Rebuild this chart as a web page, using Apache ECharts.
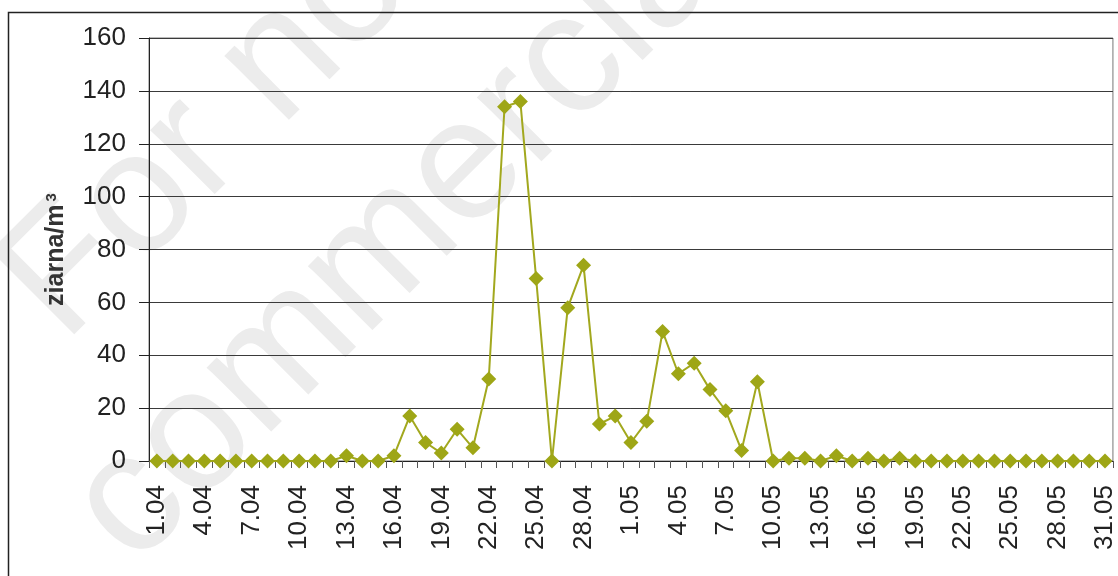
<!DOCTYPE html>
<html><head><meta charset="utf-8">
<script src="https://cdn.jsdelivr.net/npm/echarts@6/dist/echarts.min.js"></script>
<style>html,body{margin:0;padding:0;background:#fff}#c{width:1118px;height:576px}</style>
</head><body><div id="c"></div>
<script>
const categories = ['1.04','2.04','3.04','4.04','5.04','6.04','7.04','8.04','9.04','10.04',
  '11.04','12.04','13.04','14.04','15.04','16.04','17.04','18.04','19.04','20.04',
  '21.04','22.04','23.04','24.04','25.04','26.04','27.04','28.04','29.04','30.04',
  '1.05','2.05','3.05','4.05','5.05','6.05','7.05','8.05','9.05','10.05',
  '11.05','12.05','13.05','14.05','15.05','16.05','17.05','18.05','19.05','20.05',
  '21.05','22.05','23.05','24.05','25.05','26.05','27.05','28.05','29.05','30.05','31.05'];
const values = [0,0,0,0,0,0,0,0,0,0,
  0,0,2,0,0,2,17,7,3,12,
  5,31,134,136,69,0,58,74,14,17,
  7,15,49,33,37,27,19,4,30,0,
  1,1,0,2,0,1,0,1,0,0,
  0,0,0,0,0,0,0,0,0,0,0];
const yMin = 0, yMax = 160, yStep = 20;
const yTitle = 'ziarna/m';
const yTitleSup = '3';
const watermark = ['For non-', 'commercial use'];

const chart = echarts.init(document.getElementById('c'), null, {renderer: 'canvas'});
chart.setOption({
  animation: false,
  backgroundColor: '#fff',
  graphic: [
    {type: 'text', z: -10, x: -30, y: 250, rotation: Math.PI / 4,
      style: {text: watermark[0], font: '172px "Liberation Sans"', fill: '#ececec', textVerticalAlign: 'alphabetic'}},
    {type: 'text', z: -10, x: 40, y: 474, rotation: Math.PI / 4,
      style: {text: watermark[1], font: '172px "Liberation Sans"', fill: '#ececec', textVerticalAlign: 'alphabetic'}},
    {type: 'rect', z: 100, shape: {x: 8.5, y: 12.5, width: 1130, height: 600},
      style: {fill: null, stroke: '#222', lineWidth: 1.5}}
  ],
  grid: {left: 149, right: 2, top: 38, bottom: 115, show: true, borderColor: '#777', borderWidth: 1, backgroundColor: 'transparent'},
  xAxis: {
    type: 'category', data: categories, boundaryGap: true,
    axisLine: {lineStyle: {color: '#222', width: 1}},
    axisTick: {show: true, interval: 0, length: 7, lineStyle: {color: '#555'}},
    axisLabel: {interval: 2, rotate: 90, fontSize: 26, color: '#222', fontFamily: 'Liberation Sans', margin: 24},
    splitLine: {show: false}
  },
  yAxis: {
    type: 'value', min: yMin, max: yMax, interval: yStep,
    axisLine: {show: true, lineStyle: {color: '#222'}},
    axisTick: {show: true, length: 10, lineStyle: {color: '#222'}},
    axisLabel: {fontSize: 26, color: '#222', margin: 23, fontFamily: 'Liberation Sans'},
    splitLine: {lineStyle: {color: '#3a3a3a', width: 1}},
    name: '{a|' + yTitle + '}{b|' + yTitleSup + '}', nameLocation: 'middle', nameRotate: 90, nameGap: 80,
    nameTextStyle: {rich: {
      a: {fontSize: 25, fontWeight: 'bold', color: '#333', fontFamily: 'Liberation Sans'},
      b: {fontSize: 15, fontWeight: 'bold', color: '#333', fontFamily: 'Liberation Sans', verticalAlign: 'top', padding: [0, 0, 0, 3]}
    }}
  },
  series: [{
    type: 'line', data: values, symbol: 'diamond', symbolSize: 15, showAllSymbol: true,
    itemStyle: {color: '#9ea616'}, lineStyle: {color: '#a2a81e', width: 2}
  }]
});
</script></body></html>
